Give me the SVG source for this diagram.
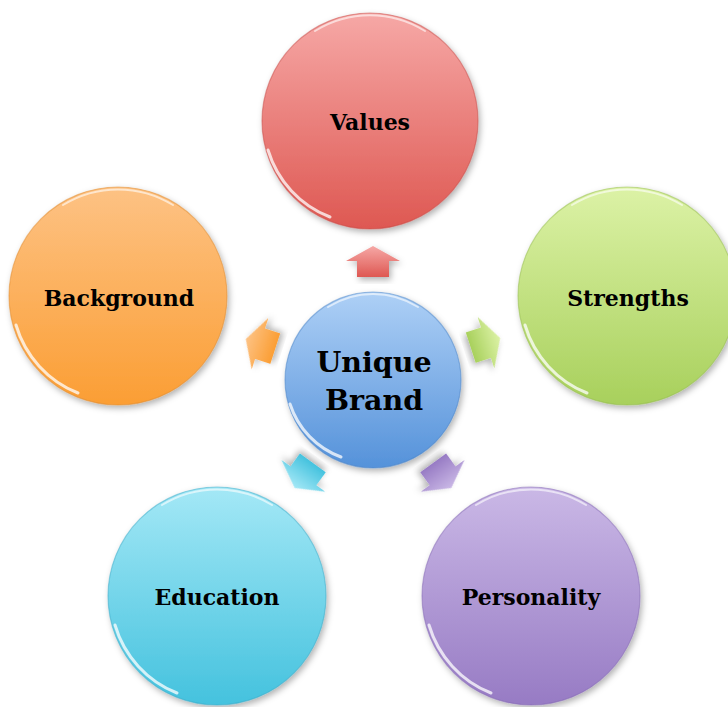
<svg xmlns="http://www.w3.org/2000/svg" width="728" height="707" viewBox="0 0 728 707">
<defs>
<linearGradient id="gRed" x1="0" y1="0" x2="0" y2="1"><stop offset="0" stop-color="#f6a8a6"/><stop offset="1" stop-color="#de5852"/></linearGradient>
<linearGradient id="gGreen" x1="0" y1="0" x2="0" y2="1"><stop offset="0" stop-color="#dcf2a6"/><stop offset="1" stop-color="#a8d05c"/></linearGradient>
<linearGradient id="gOrange" x1="0" y1="0" x2="0" y2="1"><stop offset="0" stop-color="#fdc284"/><stop offset="1" stop-color="#fb9e34"/></linearGradient>
<linearGradient id="gCyan" x1="0" y1="0" x2="0" y2="1"><stop offset="0" stop-color="#a4e8f6"/><stop offset="1" stop-color="#44c2de"/></linearGradient>
<linearGradient id="gPurple" x1="0" y1="0" x2="0" y2="1"><stop offset="0" stop-color="#cab8e6"/><stop offset="1" stop-color="#977bc4"/></linearGradient>
<linearGradient id="gBlue" x1="0" y1="0" x2="0" y2="1"><stop offset="0" stop-color="#aed0f6"/><stop offset="1" stop-color="#5592da"/></linearGradient>
<filter id="sh" x="-20%" y="-20%" width="140%" height="140%"><feDropShadow dx="2" dy="3" stdDeviation="3" flood-color="#000" flood-opacity="0.3"/></filter>
<path id="arw" d="M0,-16 L27,-1 L16,-1 L16,15 L-16,15 L-16,-1 L-27,-1 Z"/>
</defs>
<style>
.lbl{font-family:"DejaVu Serif","Liberation Serif",serif;font-weight:bold;font-size:22px;fill:#000;text-anchor:middle}
.big{font-size:28.5px}
.rim{fill:none;stroke:#fff;stroke-width:3;stroke-linecap:round;opacity:0.75}
.top{fill:none;stroke:#fff;stroke-width:2;stroke-linecap:round;opacity:0.6}
.edge{stroke-width:1.2;stroke-opacity:0.5}
</style>

<g id="connectors">
<use href="#arw" transform="translate(373,262) rotate(0)" fill="url(#gRed)" filter="url(#sh)"/>
<use href="#arw" transform="translate(485,343) rotate(72)" fill="url(#gGreen)" filter="url(#sh)"/>
<use href="#arw" transform="translate(442,475) rotate(144)" fill="url(#gPurple)" filter="url(#sh)"/>
<use href="#arw" transform="translate(304,475) rotate(216)" fill="url(#gCyan)" filter="url(#sh)"/>
<use href="#arw" transform="translate(261,344) rotate(288)" fill="url(#gOrange)" filter="url(#sh)"/>
</g>

<g id="values">
<circle cx="370" cy="121" r="108" fill="url(#gRed)" stroke="#c84a46" class="edge" filter="url(#sh)"/>
<path class="rim" d="M268,150 A104,104 0 0 0 330,217"/>
<path class="top" d="M315,31 A104,104 0 0 1 425,31"/>
<text class="lbl" x="370" y="130">Values</text>
</g>

<g id="strengths">
<circle cx="627" cy="296" r="109" fill="url(#gGreen)" stroke="#94bc4c" class="edge" filter="url(#sh)"/>
<path class="rim" d="M525,325 A105,105 0 0 0 587,393"/>
<path class="top" d="M572,205 A105,105 0 0 1 682,205"/>
<text class="lbl" x="628" y="306">Strengths</text>
</g>

<g id="background">
<circle cx="118" cy="296" r="109" fill="url(#gOrange)" stroke="#e08a2c" class="edge" filter="url(#sh)"/>
<path class="rim" d="M16,325 A105,105 0 0 0 78,393"/>
<path class="top" d="M63,205 A105,105 0 0 1 173,205"/>
<text class="lbl" x="119" y="306">Background</text>
</g>

<g id="education">
<circle cx="217" cy="596" r="109" fill="url(#gCyan)" stroke="#38aac8" class="edge" filter="url(#sh)"/>
<path class="rim" d="M115,625 A105,105 0 0 0 177,693"/>
<path class="top" d="M162,505 A105,105 0 0 1 272,505"/>
<text class="lbl" x="217" y="605">Education</text>
</g>

<g id="personality">
<circle cx="531" cy="596" r="109" fill="url(#gPurple)" stroke="#8468b4" class="edge" filter="url(#sh)"/>
<path class="rim" d="M429,625 A105,105 0 0 0 491,693"/>
<path class="top" d="M476,505 A105,105 0 0 1 586,505"/>
<text class="lbl" x="531" y="605">Personality</text>
</g>

<g id="unique-brand">
<circle cx="373" cy="380" r="88" fill="url(#gBlue)" stroke="#4a84c8" class="edge" filter="url(#sh)"/>
<path class="rim" d="M290,404 A84,84 0 0 0 341,457"/>
<path class="top" d="M328,307 A84,84 0 0 1 418,307"/>
<text class="lbl big" x="374" y="372">Unique</text>
<text class="lbl big" x="374" y="410">Brand</text>
</g>
</svg>
